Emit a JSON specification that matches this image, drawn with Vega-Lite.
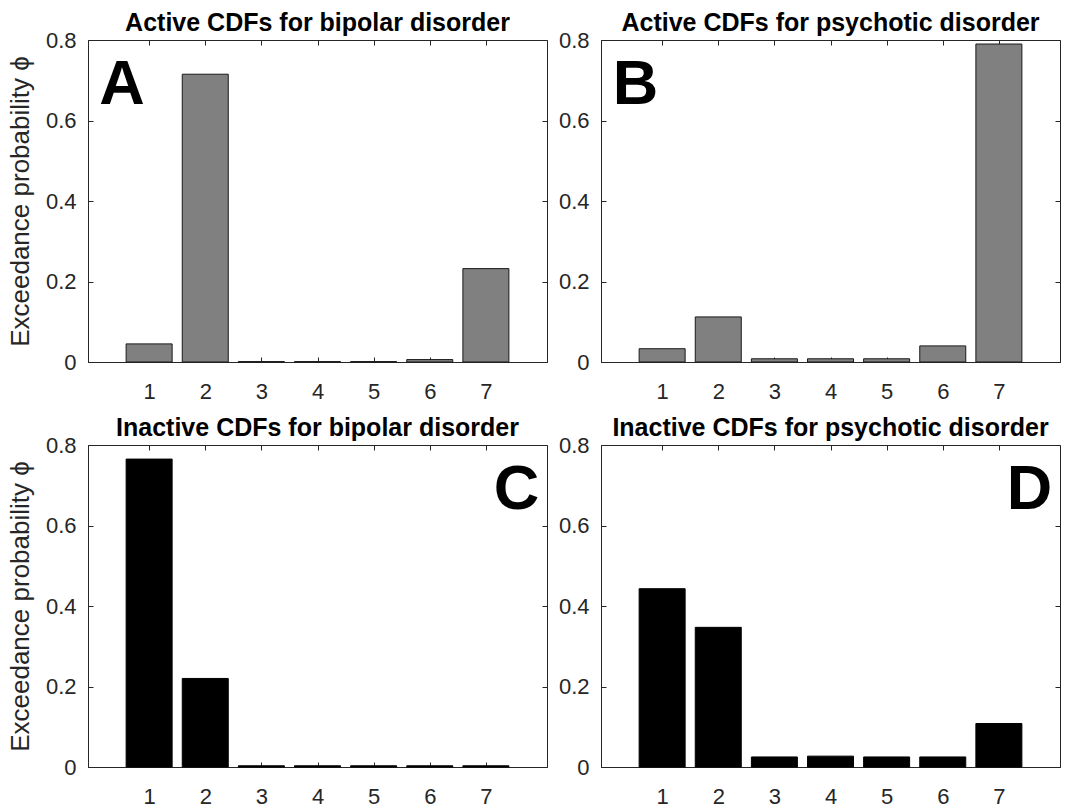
{
  "$schema": "https://vega.github.io/schema/vega-lite/v6.json",
  "padding": {"left": 7, "top": 10, "right": 0, "bottom": 0},
  "datasets": {
    "bars": [
      {"panel": "A", "model": 1, "p": 0.045},
      {"panel": "A", "model": 2, "p": 0.715},
      {"panel": "A", "model": 3, "p": 0.001},
      {"panel": "A", "model": 4, "p": 0.001},
      {"panel": "A", "model": 5, "p": 0.001},
      {"panel": "A", "model": 6, "p": 0.006},
      {"panel": "A", "model": 7, "p": 0.232},
      {"panel": "B", "model": 1, "p": 0.033},
      {"panel": "B", "model": 2, "p": 0.112},
      {"panel": "B", "model": 3, "p": 0.008},
      {"panel": "B", "model": 4, "p": 0.008},
      {"panel": "B", "model": 5, "p": 0.008},
      {"panel": "B", "model": 6, "p": 0.04},
      {"panel": "B", "model": 7, "p": 0.79},
      {"panel": "C", "model": 1, "p": 0.765},
      {"panel": "C", "model": 2, "p": 0.22},
      {"panel": "C", "model": 3, "p": 0.003},
      {"panel": "C", "model": 4, "p": 0.003},
      {"panel": "C", "model": 5, "p": 0.003},
      {"panel": "C", "model": 6, "p": 0.003},
      {"panel": "C", "model": 7, "p": 0.003},
      {"panel": "D", "model": 1, "p": 0.443},
      {"panel": "D", "model": 2, "p": 0.347},
      {"panel": "D", "model": 3, "p": 0.025},
      {"panel": "D", "model": 4, "p": 0.027},
      {"panel": "D", "model": 5, "p": 0.025},
      {"panel": "D", "model": 6, "p": 0.025},
      {"panel": "D", "model": 7, "p": 0.108}
    ],
    "letters": [
      {"panel": "A", "letter": "A"},
      {"panel": "B", "letter": "B"},
      {"panel": "C", "letter": "C"},
      {"panel": "D", "letter": "D"}
    ]
  },
  "columns": 2,
  "spacing": {"row": 83, "column": 54},
  "bounds": "flush",
  "concat": [
    {
      "title": "Active CDFs for bipolar disorder",
      "width": 459, "height": 322,
      "resolve": {"axis": {"x": "independent", "y": "independent"}},
      "layer": [
        {
          "data": {"name": "bars"},
          "transform": [{"filter": "datum.panel === 'A'"}],
          "mark": {"type": "bar", "orient": "vertical", "width": 46, "fill": "#808080", "stroke": "#1a1a1a", "strokeWidth": 1},
          "encoding": {
            "x": {"field": "model", "type": "quantitative", "scale": {"domain": [0, 8], "nice": false, "zero": false}, "axis": {"values": [1, 2, 3, 4, 5, 6, 7], "format": "d", "title": null}},
            "y": {"field": "p", "type": "quantitative", "scale": {"domain": [0, 0.8], "nice": false}, "axis": {"values": [0, 0.2, 0.4, 0.6, 0.8], "format": "~g", "title": "Exceedance probability ϕ"}}
          }
        },
        {
          "data": {"name": "letters"},
          "transform": [{"filter": "datum.panel === 'A'"}],
          "mark": {"type": "text", "align": "left", "baseline": "alphabetic", "fontSize": 63, "fontWeight": "bold", "font": "Liberation Sans", "color": "#000000"},
          "encoding": {
            "text": {"field": "letter"},
            "x": {"datum": 0.11, "type": "quantitative", "scale": {"domain": [0, 8], "nice": false, "zero": false}, "axis": {"orient": "top", "values": [1, 2, 3, 4, 5, 6, 7], "labels": false, "domain": false, "title": null}},
            "y": {"datum": 0.64, "type": "quantitative", "scale": {"domain": [0, 0.8], "nice": false}, "axis": {"orient": "right", "values": [0, 0.2, 0.4, 0.6, 0.8], "labels": false, "domain": false, "title": null}}
          }
        }
      ]
    },
    {
      "title": "Active CDFs for psychotic disorder",
      "width": 459, "height": 322,
      "resolve": {"axis": {"x": "independent", "y": "independent"}},
      "layer": [
        {
          "data": {"name": "bars"},
          "transform": [{"filter": "datum.panel === 'B'"}],
          "mark": {"type": "bar", "orient": "vertical", "width": 46, "fill": "#808080", "stroke": "#1a1a1a", "strokeWidth": 1},
          "encoding": {
            "x": {"field": "model", "type": "quantitative", "scale": {"domain": [0, 8], "nice": false, "zero": false}, "axis": {"values": [1, 2, 3, 4, 5, 6, 7], "format": "d", "title": null}},
            "y": {"field": "p", "type": "quantitative", "scale": {"domain": [0, 0.8], "nice": false}, "axis": {"values": [0, 0.2, 0.4, 0.6, 0.8], "format": "~g", "title": null}}
          }
        },
        {
          "data": {"name": "letters"},
          "transform": [{"filter": "datum.panel === 'B'"}],
          "mark": {"type": "text", "align": "left", "baseline": "alphabetic", "fontSize": 63, "fontWeight": "bold", "font": "Liberation Sans", "color": "#000000"},
          "encoding": {
            "text": {"field": "letter"},
            "x": {"datum": 0.12, "type": "quantitative", "scale": {"domain": [0, 8], "nice": false, "zero": false}, "axis": {"orient": "top", "values": [1, 2, 3, 4, 5, 6, 7], "labels": false, "domain": false, "title": null}},
            "y": {"datum": 0.64, "type": "quantitative", "scale": {"domain": [0, 0.8], "nice": false}, "axis": {"orient": "right", "values": [0, 0.2, 0.4, 0.6, 0.8], "labels": false, "domain": false, "title": null}}
          }
        }
      ]
    },
    {
      "title": "Inactive CDFs for bipolar disorder",
      "width": 459, "height": 322,
      "resolve": {"axis": {"x": "independent", "y": "independent"}},
      "layer": [
        {
          "data": {"name": "bars"},
          "transform": [{"filter": "datum.panel === 'C'"}],
          "mark": {"type": "bar", "orient": "vertical", "width": 46, "fill": "#000000", "stroke": "#000000", "strokeWidth": 1},
          "encoding": {
            "x": {"field": "model", "type": "quantitative", "scale": {"domain": [0, 8], "nice": false, "zero": false}, "axis": {"values": [1, 2, 3, 4, 5, 6, 7], "format": "d", "title": null}},
            "y": {"field": "p", "type": "quantitative", "scale": {"domain": [0, 0.8], "nice": false}, "axis": {"values": [0, 0.2, 0.4, 0.6, 0.8], "format": "~g", "title": "Exceedance probability ϕ"}}
          }
        },
        {
          "data": {"name": "letters"},
          "transform": [{"filter": "datum.panel === 'C'"}],
          "mark": {"type": "text", "align": "right", "baseline": "alphabetic", "fontSize": 63, "fontWeight": "bold", "font": "Liberation Sans", "color": "#000000"},
          "encoding": {
            "text": {"field": "letter"},
            "x": {"datum": 7.95, "type": "quantitative", "scale": {"domain": [0, 8], "nice": false, "zero": false}, "axis": {"orient": "top", "values": [1, 2, 3, 4, 5, 6, 7], "labels": false, "domain": false, "title": null}},
            "y": {"datum": 0.64, "type": "quantitative", "scale": {"domain": [0, 0.8], "nice": false}, "axis": {"orient": "right", "values": [0, 0.2, 0.4, 0.6, 0.8], "labels": false, "domain": false, "title": null}}
          }
        }
      ]
    },
    {
      "title": "Inactive CDFs for psychotic disorder",
      "width": 459, "height": 322,
      "resolve": {"axis": {"x": "independent", "y": "independent"}},
      "layer": [
        {
          "data": {"name": "bars"},
          "transform": [{"filter": "datum.panel === 'D'"}],
          "mark": {"type": "bar", "orient": "vertical", "width": 46, "fill": "#000000", "stroke": "#000000", "strokeWidth": 1},
          "encoding": {
            "x": {"field": "model", "type": "quantitative", "scale": {"domain": [0, 8], "nice": false, "zero": false}, "axis": {"values": [1, 2, 3, 4, 5, 6, 7], "format": "d", "title": null}},
            "y": {"field": "p", "type": "quantitative", "scale": {"domain": [0, 0.8], "nice": false}, "axis": {"values": [0, 0.2, 0.4, 0.6, 0.8], "format": "~g", "title": null}}
          }
        },
        {
          "data": {"name": "letters"},
          "transform": [{"filter": "datum.panel === 'D'"}],
          "mark": {"type": "text", "align": "right", "baseline": "alphabetic", "fontSize": 63, "fontWeight": "bold", "font": "Liberation Sans", "color": "#000000"},
          "encoding": {
            "text": {"field": "letter"},
            "x": {"datum": 7.95, "type": "quantitative", "scale": {"domain": [0, 8], "nice": false, "zero": false}, "axis": {"orient": "top", "values": [1, 2, 3, 4, 5, 6, 7], "labels": false, "domain": false, "title": null}},
            "y": {"datum": 0.64, "type": "quantitative", "scale": {"domain": [0, 0.8], "nice": false}, "axis": {"orient": "right", "values": [0, 0.2, 0.4, 0.6, 0.8], "labels": false, "domain": false, "title": null}}
          }
        }
      ]
    }
  ],
  "config": {
    "font": "Liberation Sans",
    "background": "#ffffff",
    "view": {"stroke": "#262626", "strokeWidth": 1},
    "axis": {
      "grid": false,
      "domainColor": "#262626",
      "domainWidth": 1,
      "tickColor": "#262626",
      "tickWidth": 1,
      "tickSize": -5,
      "labelColor": "#262626",
      "labelFont": "Liberation Sans",
      "labelFontSize": 22,
      "titleColor": "#262626",
      "titleFont": "Liberation Sans",
      "titleFontSize": 26,
      "titleFontWeight": "normal"
    },
    "axisX": {"labelPadding": 24.75},
    "axisY": {"labelPadding": 17, "titlePadding": 11.5},
    "title": {
      "font": "Liberation Sans",
      "fontSize": 25,
      "fontWeight": "bold",
      "color": "#000000",
      "anchor": "middle",
      "baseline": "alphabetic",
      "offset": -7.25
    }
  }
}
